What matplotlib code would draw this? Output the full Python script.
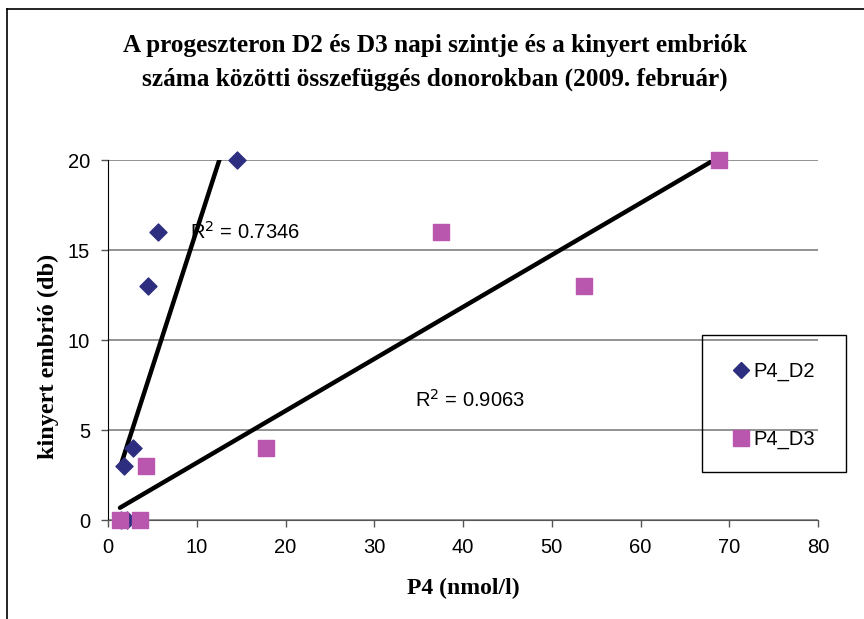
import matplotlib
matplotlib.use("Agg")
import matplotlib.pyplot as plt
import numpy as np
from matplotlib.lines import Line2D
from matplotlib.patches import Rectangle

# P4 values (nmol/l) and recovered embryos per donor
d2_p4 = [14.5, 5.6, 4.5, 2.8, 1.8, 2.1, 1.5]
d2_emb = [20, 16, 13, 4, 3, 0, 0]
d3_p4 = [68.8, 37.5, 53.6, 17.8, 4.3, 1.35, 3.6]
d3_emb = [20, 16, 13, 4, 3, 0, 0]

r2_labels = ["R$^2$ = 0.7346", "R$^2$ = 0.9063"]
series_names = ["P4_D2", "P4_D3"]

title = ("A progeszteron D2 és D3 napi szintje és a kinyert embriók\n"
         "száma közötti összefüggés donorokban (2009. február)")

c_d2 = "#2E2E80"
c_d3 = "#B956AE"
sans = "Liberation Sans"
serif = "Liberation Serif"

fig = plt.figure(figsize=(8.64, 6.19), dpi=100)
ax = fig.add_axes([0.125, 0.1599, 0.8218, 0.5816])

ax.set_xlim(0, 80)
ax.set_ylim(0, 20)
ax.set_xticks(np.arange(0, 81, 10))
ax.set_yticks(np.arange(0, 21, 5))
ax.yaxis.grid(True, color="#808080", lw=1.2)
ax.set_axisbelow(True)

for s in ["top", "right"]:
    ax.spines[s].set_visible(False)
ax.spines["left"].set_color("black")
ax.spines["bottom"].set_color("#555555")
ax.tick_params(direction="out", length=5, width=1, color="#555555",
               labelsize=14.5, pad=8)
for lab in ax.get_xticklabels() + ax.get_yticklabels():
    lab.set_family(sans)

# trendlines over the data range of each series
for xs, ys in [(d2_p4, d2_emb), (d3_p4, d3_emb)]:
    k, b = np.polyfit(xs, ys, 1)
    xx = np.array([min(xs), max(xs)])
    ax.plot(xx, k * xx + b, color="black", lw=3.2, solid_capstyle="round", zorder=2)

ax.scatter(d2_p4, d2_emb, marker="D", s=75, color=c_d2, zorder=3, clip_on=False)
ax.scatter(d3_p4, d3_emb, marker="s", s=120, color=c_d3, zorder=4, clip_on=False)

ax.text(9.2, 16, r2_labels[0], fontsize=14.5, family=sans, va="center", ha="left")
ax.text(34.6, 6.7, r2_labels[1], fontsize=14.5, family=sans, va="center", ha="left")

ax.set_xlabel("P4 (nmol/l)", fontsize=17, family=serif, fontweight="bold", labelpad=15)
ax.set_ylabel("kinyert embrió (db)", fontsize=17.5, family=serif, fontweight="bold")
ax.yaxis.set_label_coords(-0.069, 0.455)

fig.text(0.503, 0.899, title, ha="center", va="center", fontsize=18.2,
         family=serif, fontweight="bold", linespacing=1.55)

handles = [
    Line2D([], [], marker="D", ls="none", color=c_d2, markersize=8),
    Line2D([], [], marker="s", ls="none", color=c_d3, markersize=11),
]
fig.legend(handles, series_names, loc="center", bbox_to_anchor=(0.8958, 0.345),
           prop={"family": sans, "size": 14.5}, frameon=False,
           labelspacing=2.4, borderpad=1.2, handlelength=0.8, handletextpad=0.2)
fig.add_artist(Rectangle((702 / 864, 1 - 472 / 619), 144 / 864, 137 / 619,
                         transform=fig.transFigure, fill=False, ec="black", lw=1))

# outer chart frame (partly cropped in the source)
fig.add_artist(Line2D([0.0081, 1.0], [0.9855, 0.9855], color="black", lw=1.2,
                      transform=fig.transFigure))
fig.add_artist(Line2D([0.0081, 0.0081], [0.0, 0.9855], color="black", lw=1.2,
                      transform=fig.transFigure))

fig.savefig("out.png", dpi=100)
